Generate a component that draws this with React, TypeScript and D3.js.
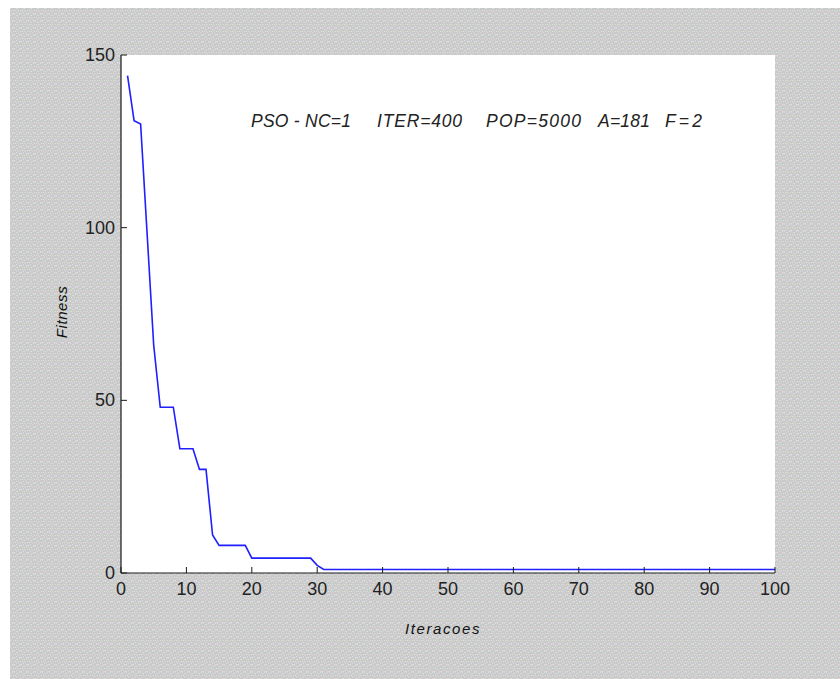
import React from "react";
import * as d3 from "d3";

const iterations: number[] = [
  1, 2, 3, 4, 5, 6, 7, 8, 9, 10, 11, 12, 13, 14, 15, 16, 17, 18, 19, 20,
  21, 22, 23, 24, 25, 26, 27, 28, 29, 30, 31, 32, 33, 34, 35, 36, 37, 38, 39, 40,
  41, 42, 43, 44, 45, 46, 47, 48, 49, 50, 51, 52, 53, 54, 55, 56, 57, 58, 59, 60,
  61, 62, 63, 64, 65, 66, 67, 68, 69, 70, 71, 72, 73, 74, 75, 76, 77, 78, 79, 80,
  81, 82, 83, 84, 85, 86, 87, 88, 89, 90, 91, 92, 93, 94, 95, 96, 97, 98, 99, 100,
];

const fitness: number[] = [
  144, 131, 130, 98, 66, 48, 48, 48, 36, 36, 36, 30, 30, 11, 8, 8, 8, 8, 8, 4.3,
  4.3, 4.3, 4.3, 4.3, 4.3, 4.3, 4.3, 4.3, 4.3, 2.2, 1, 1, 1, 1, 1, 1, 1, 1, 1, 1,
  1, 1, 1, 1, 1, 1, 1, 1, 1, 1, 1, 1, 1, 1, 1, 1, 1, 1, 1, 1,
  1, 1, 1, 1, 1, 1, 1, 1, 1, 1, 1, 1, 1, 1, 1, 1, 1, 1, 1, 1,
  1, 1, 1, 1, 1, 1, 1, 1, 1, 1, 1, 1, 1, 1, 1, 1, 1, 1, 1, 1,
];

const xTicks: number[] = [0, 10, 20, 30, 40, 50, 60, 70, 80, 90, 100];
const yTicks: number[] = [0, 50, 100, 150];

const annotationParts: string[] = ["PSO - NC=1", "ITER=400", "POP=5000", "A=181", "F=2"];
const annotationX: number[] = [251, 377, 486, 598, 665];
const annotationW: number[] = [100, 85, 95, 52, 37];
const xLabel = "Iteracoes";
const yLabel = "Fitness";

// speckle texture for the figure background
const speckles: [number, number, string][] = [
  [0, 0, "#e6cfe0"], [3, 1, "#cfe8d2"], [5, 0, "#d2e2ec"], [1, 3, "#e8e4cc"],
  [4, 4, "#e6cfe0"], [6, 3, "#cfe8d2"], [2, 5, "#d2e2ec"], [5, 6, "#e6d6cc"],
  [0, 6, "#cfe8d2"], [3, 3, "#d8d8e8"], [6, 6, "#e6cfe0"], [2, 1, "#d8d8d8"],
];

export default function App() {
  const W = 840;
  const H = 679;
  const left = 121;
  const right = 775;
  const top = 55;
  const bottom = 573;

  const x = d3.scaleLinear().domain([0, 100]).range([left, right]);
  const y = d3.scaleLinear().domain([0, 150]).range([bottom, top]);

  const line = d3
    .line<number>()
    .x((_, i) => x(iterations[i]))
    .y((d) => y(d));

  const font = "Arial, 'Liberation Sans', Helvetica, sans-serif";
  const axisColor = "#1a1a1a";

  return (
    <svg
      width={W}
      height={H}
      style={{ position: "absolute", left: 0, top: 0, display: "block" }}
    >
      <defs>
        <pattern id="speck" width={7} height={7} patternUnits="userSpaceOnUse">
          <rect width={7} height={7} fill="#cacaca" />
          {speckles.map(([sx, sy, c], i) => (
            <rect key={i} x={sx} y={sy} width={1} height={1} fill={c} />
          ))}
        </pattern>
      </defs>
      <rect x={0} y={0} width={W} height={H} fill="#ffffff" />
      <rect x={10} y={8} width={W - 10} height={H - 8} fill="url(#speck)" />
      <rect x={left} y={top} width={right - left} height={bottom - top} fill="#ffffff" />

      <path d={line(fitness) || ""} fill="none" stroke="#1f1fff" strokeWidth={1.6} />

      {/* x axis */}
      <line x1={left} x2={right} y1={bottom} y2={bottom} stroke={axisColor} strokeWidth={1.2} />
      {xTicks.map((t) => (
        <g key={t}>
          <line x1={x(t)} x2={x(t)} y1={bottom} y2={bottom - 6} stroke={axisColor} strokeWidth={1} />
          <text
            x={x(t)}
            y={bottom + 22}
            textAnchor="middle"
            fontFamily={font}
            fontSize={18}
            fill="#222"
          >
            {t}
          </text>
        </g>
      ))}

      {/* y axis */}
      <line x1={left} x2={left} y1={top} y2={bottom} stroke={axisColor} strokeWidth={1.2} />
      {yTicks.map((t) => (
        <g key={t}>
          <line x1={left} x2={left + 6} y1={y(t)} y2={y(t)} stroke={axisColor} strokeWidth={1} />
          <text
            x={left - 6}
            y={y(t) + 6}
            textAnchor="end"
            fontFamily={font}
            fontSize={18}
            fill="#222"
          >
            {t}
          </text>
        </g>
      ))}

      {annotationParts.map((s, i) => (
        <text
          key={s}
          x={annotationX[i]}
          y={127}
          fontFamily={font}
          fontStyle="italic"
          fontSize={17.5}
          fill="#222"
          textLength={annotationW[i]}
          lengthAdjust="spacing"
        >
          {s}
        </text>
      ))}

      <text
        x={443}
        y={634}
        textAnchor="middle"
        fontFamily={font}
        fontStyle="italic"
        fontSize={15}
        letterSpacing={1.6}
        fill="#111"
      >
        {xLabel}
      </text>

      <text
        transform={`translate(67, 312) rotate(-90)`}
        textAnchor="middle"
        fontFamily={font}
        fontStyle="italic"
        fontSize={15}
        letterSpacing={0.6}
        fill="#111"
      >
        {yLabel}
      </text>
    </svg>
  );
}
